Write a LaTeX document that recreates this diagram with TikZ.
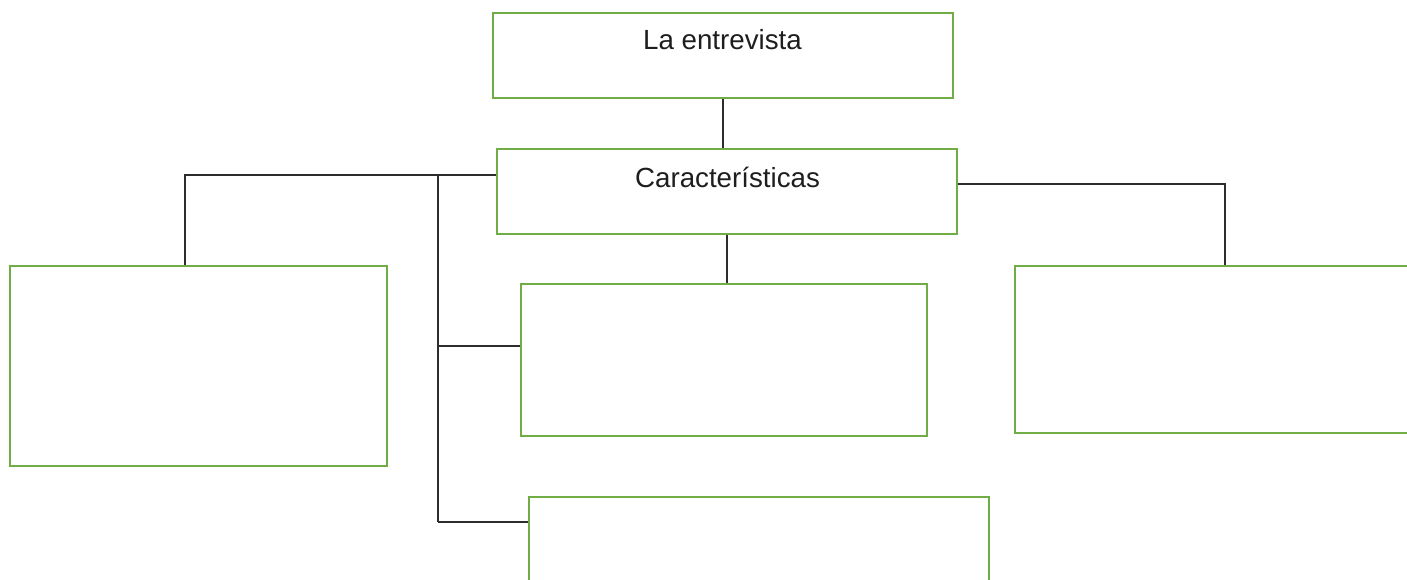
\documentclass[tikz,border=0pt]{standalone}
\usepackage{fontspec}
\setmainfont{Liberation Sans}
\definecolor{boxgreen}{RGB}{112,173,71}
\definecolor{linegray}{RGB}{45,45,45}
\definecolor{textgray}{RGB}{30,30,30}
\begin{document}
\begin{tikzpicture}[x=1pt,y=-1pt,
  box/.style={draw=boxgreen, line width=2.6pt, inner sep=0pt, rectangle, fill=white},
  link/.style={draw=linegray, line width=1.4pt},
  lbl/.style={font=\fontsize{27.7}{31}\selectfont, text=textgray, anchor=base, inner sep=0pt}]
\useasboundingbox (0,0) rectangle (1407,580);
\clip (0,0) rectangle (1407,580);
% boxes
\node[box, minimum width=460pt, minimum height=85pt] (top) at (723,55.5) {};
\node[box, minimum width=460pt, minimum height=85pt] (char) at (727,191.5) {};
\node[box, minimum width=377pt, minimum height=200pt] (left) at (198.5,366) {};
\node[box, minimum width=406pt, minimum height=152pt] (mid) at (724,360) {};
\node[box, minimum width=405pt, minimum height=167pt] (right) at (1217.5,349.5) {};
\node[box, minimum width=460pt, minimum height=103pt] (bot) at (759,548.5) {};
% labels
\node[lbl] (t1) at (722.5,50) {La entrevista};
\node[lbl] (t2) at (727.5,187) {Características};
% junction coordinates
\coordinate (lj) at (185,175);
\coordinate (rj) at (1225,184);
\coordinate (tr) at (438,175);
\coordinate (b1) at (438,346);
\coordinate (tb) at (438,522);
% connectors
\draw[link] (top.south) -- (top.south |- char.north);
\draw[link] (char.south) -- (char.south |- mid.north);
\draw[link] (char.west |- lj) -- (lj) -- (lj |- left.north);
\draw[link] (char.east |- rj) -- (rj) -- (rj |- right.north);
\draw[link] (tr) -- (tb);
\draw[link] (b1) -- (mid.west |- b1);
\draw[link] (tb) -- (bot.west |- tb);
\end{tikzpicture}
\end{document}
